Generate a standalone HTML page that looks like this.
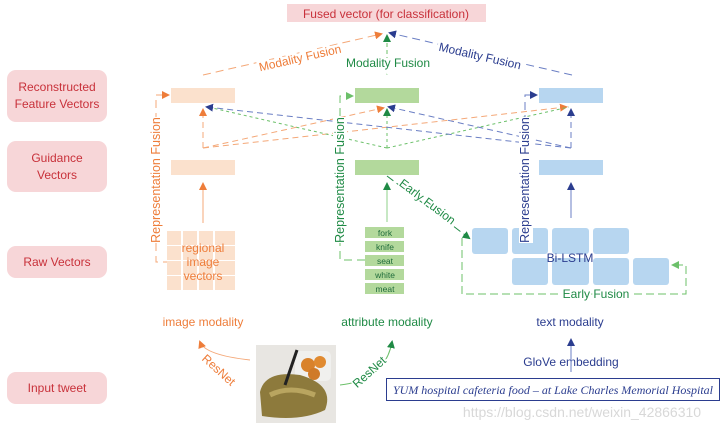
<!DOCTYPE html><html><head><meta charset="utf-8"><style>body{margin:0;background:#fff}svg{display:block;font-family:"Liberation Sans",sans-serif}</style></head><body>
<svg width="727" height="431" viewBox="0 0 727 431">
<defs>
<marker id="ao" markerWidth="8" markerHeight="8" refX="6" refY="4" orient="auto" markerUnits="userSpaceOnUse"><path d="M0,0L8,4L0,8z" fill="#ee7d3a"/></marker>
<marker id="ag" markerWidth="8" markerHeight="8" refX="6" refY="4" orient="auto" markerUnits="userSpaceOnUse"><path d="M0,0L8,4L0,8z" fill="#1f8a45"/></marker>
<marker id="ab" markerWidth="8" markerHeight="8" refX="6" refY="4" orient="auto" markerUnits="userSpaceOnUse"><path d="M0,0L8,4L0,8z" fill="#2b3d8f"/></marker>
<marker id="alg" markerWidth="8" markerHeight="8" refX="6" refY="4" orient="auto" markerUnits="userSpaceOnUse"><path d="M0,0L8,4L0,8z" fill="#6cc06a"/></marker>
</defs>
<g fill="#f7d6d8">
<rect x="7" y="70" width="100" height="52" rx="9"/><rect x="7" y="141" width="100" height="51" rx="9"/>
<rect x="7" y="246" width="100" height="32" rx="9"/><rect x="7" y="372" width="100" height="32" rx="9"/>
<rect x="287" y="4" width="199" height="18"/></g>
<g fill="#c8313a" font-size="12" text-anchor="middle">
<text x="57" y="91">Reconstructed</text><text x="57" y="108">Feature Vectors</text>
<text x="57" y="162">Guidance</text><text x="57" y="179">Vectors</text>
<text x="57" y="266">Raw Vectors</text><text x="57" y="392">Input tweet</text>
<text x="386" y="18">Fused vector (for classification)</text></g>
<rect x="171" y="88" width="64" height="15" fill="#fbe1cd"/><rect x="355" y="88" width="64" height="15" fill="#b3d99c"/><rect x="539" y="88" width="64" height="15" fill="#b7d6f0"/>
<rect x="171" y="160" width="64" height="15" fill="#fbe1cd"/><rect x="355" y="160" width="64" height="15" fill="#b3d99c"/><rect x="539" y="160" width="64" height="15" fill="#b7d6f0"/>
<g fill="none" stroke-dasharray="8,5">
<path d="M203,75L381,34" stroke="#f4a878" marker-end="url(#ao)"/>
<path d="M387,75L387,36" stroke="#6cc06a" stroke-dasharray="4,3" marker-end="url(#ag)"/>
<path d="M572,75L390,33" stroke="#6b7fc4" marker-end="url(#ab)"/>
</g>
<g font-size="12" text-anchor="middle" stroke="#fff" stroke-width="5" paint-order="stroke">
<text x="300" y="62" fill="#ee7d3a" transform="rotate(-13 300 58)">Modality Fusion</text>
<text x="388" y="67" fill="#1f8a45">Modality Fusion</text>
<text x="480" y="60" fill="#2b3d8f" transform="rotate(13 480 56)">Modality Fusion</text>
</g>
<g fill="none" stroke-dasharray="6,4">
<path d="M203,148L203,110" stroke="#f4a878" marker-end="url(#ao)"/>
<path d="M203,148L383,108" stroke="#f4a878" marker-end="url(#ao)"/>
<path d="M203,148L566,107" stroke="#f4a878" marker-end="url(#ao)"/>
<path d="M387,148L387,110" stroke="#6cc06a" stroke-dasharray="3,3" marker-end="url(#ag)"/>
<path d="M387,148L208,107" stroke="#6cc06a" stroke-dasharray="3,3"/>
<path d="M387,148L569,107" stroke="#6cc06a" stroke-dasharray="3,3"/>
<path d="M571,148L571,110" stroke="#6b7fc4" marker-end="url(#ab)"/>
<path d="M571,148L207,107" stroke="#6b7fc4" marker-end="url(#ab)"/>
<path d="M571,148L389,107" stroke="#6b7fc4" marker-end="url(#ab)"/>
</g>
<g fill="none" stroke-dasharray="8,5">
<path d="M171,262L156,262L156,95L168,95" stroke="#f4a878" marker-end="url(#ao)"/>
<path d="M365,260L340,260L340,96L352,96" stroke="#6cc06a" marker-end="url(#alg)"/>
<path d="M545,259L525,259L525,95L536,95" stroke="#6b7fc4" marker-end="url(#ab)"/>
</g>
<g font-size="12.5" text-anchor="middle">
<rect x="149" y="117" width="14" height="126" fill="#fff"/><text transform="translate(160 180) rotate(-90)" fill="#ee7d3a">Representation Fusion</text>
<rect x="333" y="117" width="14" height="126" fill="#fff"/><text transform="translate(344 180) rotate(-90)" fill="#1f8a45">Representation Fusion</text>
</g>
<g fill="#fbe1cd"><rect x="167" y="231" width="14" height="14"/><rect x="183" y="231" width="14" height="14"/><rect x="199" y="231" width="14" height="14"/><rect x="215" y="231" width="20" height="14"/>
<rect x="167" y="246" width="14" height="14"/><rect x="183" y="246" width="14" height="14"/><rect x="199" y="246" width="14" height="14"/><rect x="215" y="246" width="20" height="14"/>
<rect x="167" y="261" width="14" height="14"/><rect x="183" y="261" width="14" height="14"/><rect x="199" y="261" width="14" height="14"/><rect x="215" y="261" width="20" height="14"/>
<rect x="167" y="276" width="14" height="14"/><rect x="183" y="276" width="14" height="14"/><rect x="199" y="276" width="14" height="14"/><rect x="215" y="276" width="20" height="14"/></g>
<g fill="#ee7d3a" font-size="12" text-anchor="middle"><text x="203" y="252">regional</text><text x="203" y="266">image</text><text x="203" y="280">vectors</text></g>
<g fill="#b3d99c"><rect x="365" y="227" width="39" height="11"/><rect x="365" y="241" width="39" height="11"/><rect x="365" y="255" width="39" height="11"/><rect x="365" y="269" width="39" height="11"/><rect x="365" y="283" width="39" height="11"/></g>
<g fill="#1f6b3a" font-size="8.5" text-anchor="middle"><text x="385" y="236">fork</text><text x="385" y="250">knife</text><text x="385" y="264">seat</text><text x="385" y="278">white</text><text x="385" y="292">meat</text></g>
<g fill="#b7d6f0"><rect x="472" y="228" width="36" height="26" rx="3"/><rect x="512" y="228" width="36" height="26" rx="3"/><rect x="552" y="228" width="37" height="26" rx="3"/><rect x="593" y="228" width="36" height="26" rx="3"/>
<rect x="512" y="258" width="36" height="27" rx="3"/><rect x="552" y="258" width="37" height="27" rx="3"/><rect x="593" y="258" width="36" height="27" rx="3"/><rect x="633" y="258" width="36" height="27" rx="3"/></g>
<rect x="519" y="117" width="14" height="126" fill="#fff"/><text transform="translate(529 180) rotate(-90)" fill="#2b3d8f" font-size="12.5" text-anchor="middle">Representation Fusion</text>
<text x="570" y="262" fill="#2b3d8f" font-size="12" text-anchor="middle">Bi-LSTM</text>
<path d="M203,223L203,184" stroke="#f4a878" marker-end="url(#ao)"/>
<path d="M387,222L387,184" stroke="#8fd08a" marker-end="url(#ag)"/>
<path d="M571,218L571,184" stroke="#6b7fc4" marker-end="url(#ab)"/>
<path d="M387,176L469,238" stroke="#1f8a45" fill="none" stroke-dasharray="8,4" marker-end="url(#ag)"/>
<text x="425" y="205" font-size="12" fill="#1f8a45" text-anchor="middle" transform="rotate(37 425 205)" stroke="#fff" stroke-width="3" paint-order="stroke">Early Fusion</text>
<path d="M462,238L462,294L686,294L686,265L673,265" stroke="#6cc06a" fill="none" stroke-dasharray="8,4" marker-end="url(#alg)"/>
<text x="596" y="298" font-size="12" fill="#1f8a45" text-anchor="middle" stroke="#fff" stroke-width="4" paint-order="stroke">Early Fusion</text>
<g font-size="12" text-anchor="middle"><text x="203" y="326" fill="#ee7d3a">image modality</text><text x="387" y="326" fill="#1f8a45">attribute modality</text><text x="570" y="326" fill="#2b3d8f">text modality</text><text x="571" y="366" fill="#2b3d8f">GloVe embedding</text></g>
<path d="M571,372L571,340" stroke="#6b7fc4" marker-end="url(#ab)"/>
<path d="M250,360Q205,355 200,342" stroke="#f4a878" fill="none" marker-end="url(#ao)"/>
<path d="M340,385Q385,380 392,342" stroke="#6cc06a" fill="none" marker-end="url(#ag)"/>
<text transform="translate(216 373) rotate(42)" font-size="12" fill="#ee7d3a" text-anchor="middle" stroke="#fff" stroke-width="3" paint-order="stroke">ResNet</text>
<text transform="translate(372 375) rotate(-42)" font-size="12" fill="#1f8a45" text-anchor="middle" stroke="#fff" stroke-width="3" paint-order="stroke">ResNet</text>
<rect x="256" y="345" width="80" height="78" fill="#e8e6e2"/>
<rect x="295" y="351" width="36" height="30" rx="5" fill="#f0f0ee"/>
<circle cx="308" cy="365" r="7" fill="#d9822b"/><circle cx="320" cy="362" r="6" fill="#e08a30"/><circle cx="314" cy="374" r="6" fill="#cf7a28"/>
<path d="M260,392Q265,370 300,375Q335,385 325,410Q300,422 262,416z" fill="#8d7a3c"/>
<path d="M270,395Q290,385 315,395" stroke="#b9a560" stroke-width="5" fill="none"/>
<path d="M285,385L297,350" stroke="#222" stroke-width="3"/>
<rect x="386.5" y="378.5" width="333" height="22" fill="#fff" stroke="#2b3d8f"/>
<text x="553" y="394" font-family="Liberation Serif,serif" font-style="italic" font-size="12" fill="#2b3d8f" text-anchor="middle" textLength="320" lengthAdjust="spacingAndGlyphs">YUM hospital cafeteria food  – at Lake Charles Memorial Hospital</text>
<text x="582" y="417" font-size="14" fill="#d8d8d8" text-anchor="middle">https://blog.csdn.net/weixin_42866310</text>
</svg></body></html>
